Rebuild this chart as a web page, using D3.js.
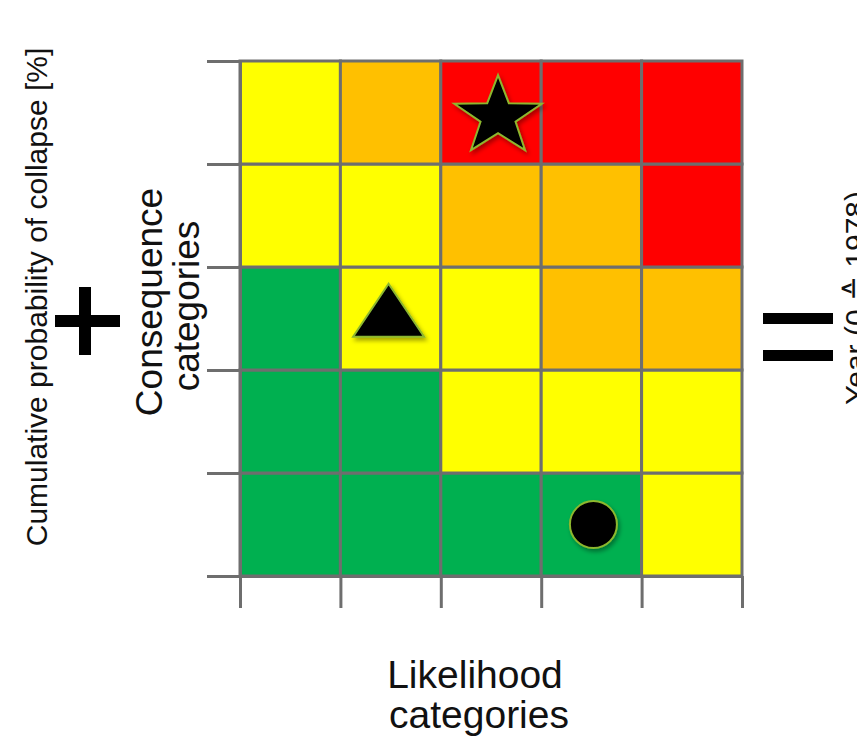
<!DOCTYPE html>
<html>
<head>
<meta charset="utf-8">
<script src="https://cdn.jsdelivr.net/npm/d3@7"></script>
<style>
  body { margin: 0; background: #fff; }
  text { font-family: "Liberation Sans", Arial, sans-serif; fill: #111; }
</style>
</head>
<body>
<div id="chart"></div>
<script>
// categories (1 = lowest) along both axes
const likelihoodCats = [1, 2, 3, 4, 5];
const consequenceCats = [1, 2, 3, 4, 5];

// risk level per cell, one row per consequence category (bottom row first)
const riskRows = [
  ["low", "low", "low", "low", "medium"],
  ["low", "low", "medium", "medium", "medium"],
  ["low", "medium", "medium", "high", "high"],
  ["medium", "medium", "high", "high", "extreme"],
  ["medium", "high", "extreme", "extreme", "extreme"]
];
const riskLevels = ["low", "medium", "high", "extreme"];
const riskColors = ["#00b050", "#ffff00", "#ffc000", "#ff0000"];

// markers placed in the matrix (in category units)
const markerShapes = ["star", "triangle", "circle"];
const markerLikelihood = [2.57, 1.48, 3.52];
const markerConsequence = [4.46, 2.58, 0.5];

const w = 857;
const h = 739;

const svg = d3.select("#chart")
              .append("svg")
              .attr("width", w)
              .attr("height", h)

const defs = svg.append("defs")
defs.append("filter")
    .attr("id", "shadow")
    .attr("x", "-30%").attr("y", "-30%")
    .attr("width", "160%").attr("height", "160%")
    .append("feDropShadow")
    .attr("dx", 2).attr("dy", 3)
    .attr("stdDeviation", 2)
    .attr("flood-color", "#000")
    .attr("flood-opacity", 0.35)

const x = d3.scaleLinear().domain([0, likelihoodCats.length]).range([240, 742]);
const y = d3.scaleLinear().domain([0, consequenceCats.length]).range([576, 61]);
const color = d3.scaleOrdinal().domain(riskLevels).range(riskColors);

const gridGray = "#6e6e6e";

// cells
const cells = [];
riskRows.forEach((row, r) => row.forEach((lvl, c) => cells.push({ r, c, lvl })));

svg.selectAll("rect.cell")
   .data(cells)
   .enter()
   .append("rect")
   .attr("class", "cell")
   .attr("x", d => x(d.c))
   .attr("y", d => y(d.r + 1))
   .attr("width", d => x(d.c + 1) - x(d.c))
   .attr("height", d => y(d.r) - y(d.r + 1))
   .attr("fill", d => color(d.lvl))
   .attr("stroke", gridGray)
   .attr("stroke-width", 3)

// axes (ticks only, no labels)
const ticksX = d3.range(likelihoodCats.length + 1);
const ticksY = d3.range(consequenceCats.length + 1);

svg.append("g")
   .attr("transform", "translate(240,0)")
   .call(d3.axisLeft(y).tickValues(ticksY).tickSize(33).tickSizeOuter(0).tickFormat(""))
svg.append("g")
   .attr("transform", "translate(0,576)")
   .call(d3.axisBottom(x).tickValues(ticksX).tickSize(32).tickSizeOuter(0).tickFormat(""))

svg.selectAll(".tick line, .domain")
   .attr("stroke", gridGray)
   .attr("stroke-width", 3)

// marker shapes
function starPath(rx, ry, inner) {
  const pts = [];
  for (let i = 0; i < 10; i++) {
    const a = -Math.PI / 2 + i * Math.PI / 5;
    const k = i % 2 ? inner : 1;
    pts.push([Math.cos(a) * rx * k, Math.sin(a) * ry * k]);
  }
  return "M" + pts.join("L") + "Z";
}

function markerPath(shape) {
  if (shape === "star") return starPath(46, 41.5, 0.4);
  if (shape === "triangle") return "M0,-26.5L35.5,26.5L-35.5,26.5Z";
  return d3.arc()({ innerRadius: 0, outerRadius: 23.5, startAngle: 0, endAngle: 2 * Math.PI });
}

svg.selectAll("path.marker")
   .data(markerShapes)
   .enter()
   .append("path")
   .attr("class", "marker")
   .attr("transform", (d, i) => `translate(${x(markerLikelihood[i])},${y(markerConsequence[i])})`)
   .attr("d", d => markerPath(d))
   .attr("fill", "#000")
   .attr("stroke", "#8db72e")
   .attr("stroke-width", 2)
   .attr("filter", "url(#shadow)")

// axis titles
svg.append("text")
   .attr("transform", "translate(47,297) rotate(-90)")
   .attr("text-anchor", "middle")
   .style("font-size", "30px")
   .text("Cumulative probability of collapse [%]")

svg.append("text")
   .attr("transform", "translate(162,302) rotate(-90)")
   .attr("text-anchor", "middle")
   .style("font-size", "37px")
   .text("Consequence")
svg.append("text")
   .attr("transform", "translate(199,306) rotate(-90)")
   .attr("text-anchor", "middle")
   .style("font-size", "37px")
   .text("categories")

svg.append("text")
   .attr("x", 475).attr("y", 688)
   .attr("text-anchor", "middle")
   .style("font-size", "39px")
   .text("Likelihood")
svg.append("text")
   .attr("x", 479).attr("y", 728)
   .attr("text-anchor", "middle")
   .style("font-size", "39px")
   .text("categories")

svg.append("text")
   .attr("transform", "translate(866,405) rotate(-90)")
   .attr("text-anchor", "start")
   .style("font-size", "30px")
   .text("Year (0 \u2259 1978)")

// plus and equals signs
svg.append("rect").attr("x", 55).attr("y", 315).attr("width", 65).attr("height", 12).attr("fill", "#000")
svg.append("rect").attr("x", 79).attr("y", 287).attr("width", 12).attr("height", 68).attr("fill", "#000")
svg.append("rect").attr("x", 763).attr("y", 313).attr("width", 70).attr("height", 11).attr("fill", "#000")
svg.append("rect").attr("x", 763).attr("y", 350).attr("width", 70).attr("height", 11).attr("fill", "#000")
</script>
</body>
</html>
